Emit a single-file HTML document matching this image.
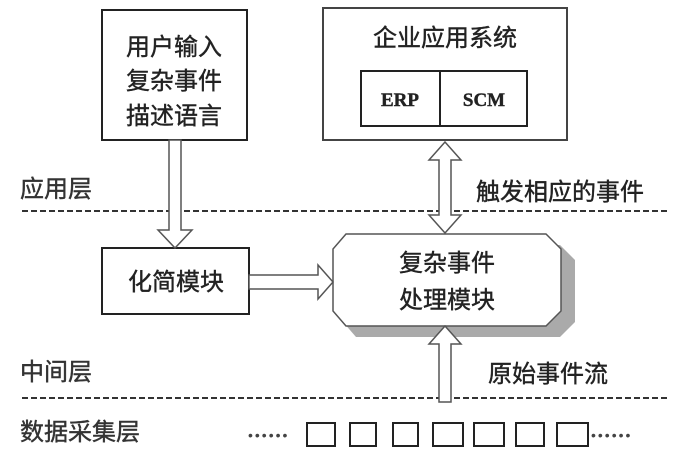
<!DOCTYPE html>
<html><head><meta charset="utf-8"><style>
html,body{margin:0;padding:0;background:#fff;}
svg{display:block}
text{font-family:"Liberation Sans","Noto Sans CJK SC",sans-serif;fill:#222;stroke:#222;stroke-width:0.4;}
</style></head><body>
<svg width="682" height="466" viewBox="0 0 682 466" xmlns="http://www.w3.org/2000/svg">
<g stroke="#222" stroke-width="2" fill="none">
<rect x="102" y="10" width="145" height="130" fill="#fff"/>
<rect x="323" y="8" width="244" height="132" fill="#fff" stroke="#444"/>
<rect x="361" y="71" width="166" height="55"/>
<line x1="440" y1="71" x2="440" y2="126"/>
<rect x="102" y="248" width="147" height="66" fill="#fff"/>
</g>
<g stroke="#333" stroke-width="2" stroke-dasharray="6,3">
<line x1="22" y1="211" x2="670" y2="211"/>
<line x1="22" y1="398" x2="670" y2="398"/>
</g>
<path d="M356 245 L560 245 L575 260 L575 322 L560 337 L356 337 L343 322 L343 260 Z" fill="#aaa"/>
<path d="M346 234 L546 234 L561 249 L561 311 L546 326 L346 326 L333 311 L333 249 Z" fill="#fff" stroke="#555" stroke-width="1.5"/>
<g fill="#fff" stroke="#555" stroke-width="1.5">
<path d="M169 140 L181 140 L181 230 L192 230 L175 248 L158 230 L169 230 Z"/>
<path d="M249 275 L318 275 L318 265 L333 282 L318 299 L318 289 L249 289 Z"/>
<path d="M445 142 L461 160 L451 160 L451 215 L461 215 L445 233 L429 215 L439 215 L439 160 L429 160 Z"/>
<path d="M445 326 L461 344 L451 344 L451 402 L439 402 L439 344 L429 344 Z"/>
</g>
<g font-size="24">
<text x="174" y="55" text-anchor="middle">用户输入</text>
<text x="174" y="89" text-anchor="middle">复杂事件</text>
<text x="174" y="124" text-anchor="middle">描述语言</text>
<text x="445" y="46" text-anchor="middle">企业应用系统</text>
<text x="176" y="290" text-anchor="middle">化简模块</text>
<text x="447" y="271" text-anchor="middle">复杂事件</text>
<text x="447" y="308" text-anchor="middle">处理模块</text>
<text x="476" y="200">触发相应的事件</text>
<text x="488" y="382">原始事件流</text>
<text x="20" y="197" style="fill:#333;stroke:#333">应用层</text>
<text x="20" y="380" style="fill:#333;stroke:#333">中间层</text>
<text x="20" y="440" style="fill:#333;stroke:#333">数据采集层</text>
</g>
<g font-size="19" font-weight="bold">
<text x="400" y="106" text-anchor="middle" style="font-family:'Liberation Serif',serif">ERP</text>
<text x="484" y="106" text-anchor="middle" style="font-family:'Liberation Serif',serif">SCM</text>
</g>
<g fill="none" stroke="#222" stroke-width="2">
<rect x="307" y="423" width="28" height="23"/>
<rect x="350" y="423" width="26" height="23"/>
<rect x="393" y="423" width="25" height="23"/>
<rect x="433" y="423" width="30" height="23"/>
<rect x="474" y="423" width="30" height="23"/>
<rect x="516" y="423" width="28" height="23"/>
<rect x="557" y="423" width="31" height="23"/>
</g>
<text x="248" y="440" font-size="14" letter-spacing="2" style="fill:#444;stroke:none">••••••</text>
<text x="591" y="440" font-size="14" letter-spacing="2" style="fill:#444;stroke:none">••••••</text>
</svg>
</body></html>
